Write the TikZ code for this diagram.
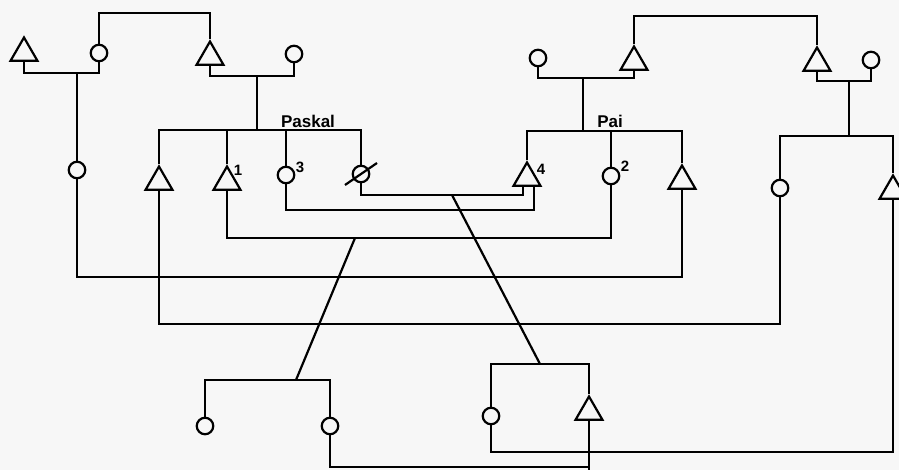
\documentclass[tikz,border=0pt]{standalone}
\usepackage{fontspec}
\setmainfont{Liberation Sans}
\usetikzlibrary{shapes.geometric}
\begin{document}
\begin{tikzpicture}[x=1pt,y=-1pt,line width=2.2pt,
  male/.style={draw,regular polygon,regular polygon sides=3,minimum size=31pt,inner sep=0pt},
  female/.style={draw,circle,minimum size=16.5pt,inner sep=0pt},
  lbl/.style={font=\bfseries\fontsize{17}{17}\selectfont,inner sep=0pt,anchor=base},
  num/.style={font=\bfseries\fontsize{15}{15}\selectfont,inner sep=0pt,anchor=base}]
\path[use as bounding box,fill=black!3] (0,0) rectangle (899,470);
% persons
\node[male] (ta) at (24,53) {};
\node[female] (ca) at (99,53) {};
\node[male] (tb) at (210,57) {};
\node[female] (cb) at (294,54) {};
\node[female] (cl) at (77,170) {};
\node[male] (pk1) at (159,182) {};
\node[male] (pk2) at (227,182) {};
\node[female] (pk3) at (286,175) {};
\node[female] (pk4) at (361,174) {};
\node[female] (cc) at (538,58) {};
\node[male] (tc) at (634,62) {};
\node[male] (td) at (817,63) {};
\node[female] (cd) at (871,60) {};
\node[male] (pa1) at (527,178) {};
\node[female] (pa2) at (611,176) {};
\node[male] (pa3) at (682,181) {};
\node[female] (rs1) at (780,188) {};
\node[male] (rs2) at (893,191) {};
\node[female] (bl1) at (205,426) {};
\node[female] (bl2) at (330,426) {};
\node[female] (br1) at (491,416) {};
\node[male] (br2) at (589,412) {};
% helper coordinates
\coordinate (s1) at (150,13);
\coordinate (s2) at (720,16);
\coordinate (mA) at (77,73);
\coordinate (mB) at (257,76);
\coordinate (pkbar) at (257,130);
\coordinate (mC) at (583,78);
\coordinate (paibar) at (583,131);
\coordinate (mD) at (849,81);
\coordinate (rbar) at (849,136);
\coordinate (ma) at (380,277);
\coordinate (mb) at (470,324);
\coordinate (mc) at (420,238);
\coordinate (md) at (440,195);
\coordinate (me) at (420,210);
\coordinate (d1) at (452,195);
\coordinate (d2) at (540,364);
\coordinate (d3) at (355,238);
\coordinate (d4) at (296,380);
\coordinate (bot) at (589,472);
\coordinate (mf) at (450,467);
\coordinate (mg) at (700,452);
% sibling brackets
\draw (ca.north) |- (s1) -| (tb.corner 1);
\draw (tc.corner 1) |- (s2) -| (td.corner 1);
% couples and descent
\draw (ta.side 2) |- (mA) -| (ca.south);
\draw (mA) -- (cl.north);
\draw (tb.side 2) |- (mB) -| (cb.south);
\draw (mB) -- (pkbar);
\draw (pk1.corner 1) |- (pkbar) -| (pk4.north);
\draw (pk2.corner 1) -- (pk2.corner 1 |- pkbar);
\draw (pk3.north) -- (pk3.north |- pkbar);
\draw (cc.south) |- (mC) -| (tc.side 2);
\draw (mC) -- (paibar);
\draw (pa1.corner 1) |- (paibar) -| (pa3.corner 1);
\draw (pa2.north) -- (pa2.north |- paibar);
\draw (td.side 2) |- (mD) -| (cd.south);
\draw (mD) -- (rbar);
\draw (rs1.north) |- (rbar) -| (rs2.corner 1);
% marriages
\draw (cl.south) |- (ma) -| (pa3.side 2);
\draw (pk1.side 2) |- (mb) -| (rs1.south);
\draw (pk2.side 2) |- (mc) -| (pa2.south);
\draw (pk4.south) |- (md) -| ([xshift=-4pt]pa1.side 2);
\draw (pk3.south) |- (me) -| ([xshift=7pt]pa1.side 2);
% descent from marriages
\draw (d1) -- (d2);
\draw (br1.north) |- (d2) -| (br2.corner 1);
\draw (d3) -- (d4);
\draw (bl1.north) |- (d4) -| (bl2.north);
\draw (br2.side 2) -- (bot);
\draw (bl2.south) |- (mf -| br2.side 2);
\draw (br1.south) |- (mg) -| (rs2.side 2);
% deceased mark
\draw ([shift={(-16,11)}]pk4.center) -- ([shift={(16,-11)}]pk4.center);
% labels
\node[lbl] (lpk) at (308,128) {Paskal};
\node[lbl] (lpai) at (610,128) {Pai};
\node[num] (n1) at (238,176) {1};
\node[num] (n3) at (300,173) {3};
\node[num] (n4) at (541,175) {4};
\node[num] (n2) at (625,172) {2};
\end{tikzpicture}
\end{document}
